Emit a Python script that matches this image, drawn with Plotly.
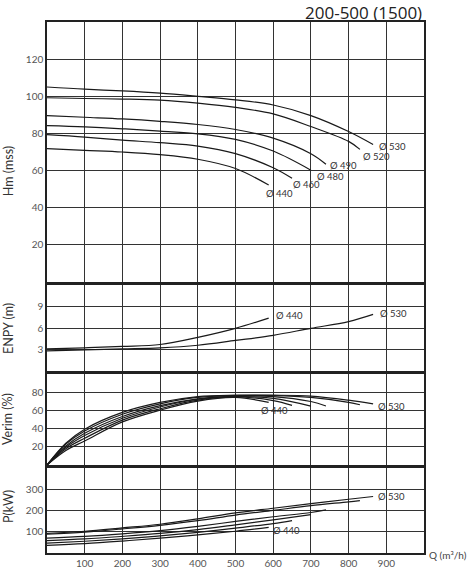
import plotly.graph_objects as go
from plotly.subplots import make_subplots

#%% Datos
diametros = [530, 520, 490, 480, 460, 440]
q_fin = [865, 830, 740, 707, 650, 588]          # caudal final de cada curva
q_malla = [0, 100, 200, 300, 400, 500, 600, 700, 800]
q_malla_ef = [0, 50, 100, 200, 300, 400, 500, 600, 700, 800]

# Hm (mss)
hm_530 = [105, 103.8, 102.9, 101.7, 100, 98.1, 95.3, 89.6, 81, 74]
hm_520 = [99.2, 98.8, 98.5, 97.9, 96.3, 94, 90.5, 83.7, 75.7, 71.4]
hm_490 = [89.6, 88.7, 87.8, 86.5, 84.8, 82.1, 77.5, 69.1, 63.4]
hm_480 = [84.2, 83.5, 82.5, 81.2, 79.8, 76.8, 70.5, 60.2]
hm_460 = [79.3, 78, 76.4, 75, 73.2, 69.1, 61.5, 55.8]
hm_440 = [71.8, 70.9, 70, 68.6, 66.1, 61.1, 52.2]

# ENPY (m), solo dos curvas
enpy_530 = [2.8, 2.96, 3.1, 3.24, 3.6, 4.27, 4.98, 5.96, 6.9, 7.9]
enpy_440 = [3.1, 3.24, 3.43, 3.7, 4.7, 5.96, 7.37]

# Verim (%)
ef_530 = [0, 24, 39.5, 58, 69, 75.5, 77, 77, 76, 71.5, 67.5]
ef_520 = [0, 23, 37.5, 56, 67.5, 74.5, 76.5, 76.5, 74.5, 69, 66.4]
ef_490 = [0, 21, 35, 53.5, 65.5, 73, 76, 75.5, 70, 65]
ef_480 = [0, 19.5, 32.5, 51.5, 64, 72.5, 75.5, 73.5, 65]
ef_460 = [0, 18, 29.5, 49.5, 62, 71.5, 75, 71, 65.7]
ef_440 = [0, 16, 26.5, 47.5, 60.5, 70.5, 74.5, 69]

# P (kW)
p_530 = [92, 102, 118, 135, 160, 188, 210, 232, 252, 265]
p_520 = [88, 98, 113, 130, 152, 178, 200, 222, 240, 246]
p_490 = [70, 78, 90, 105, 125, 148, 170, 190, 202]
p_480 = [58, 66, 78, 92, 110, 132, 155, 180]
p_460 = [46, 55, 66, 80, 97, 117, 138, 152]
p_440 = [36, 44, 56, 70, 85, 102, 120]

hm = [hm_530, hm_520, hm_490, hm_480, hm_460, hm_440]
ef = [ef_530, ef_520, ef_490, ef_480, ef_460, ef_440]
pw = [p_530, p_520, p_490, p_480, p_460, p_440]


def eje_q(malla, qmax):
    return [q for q in malla if q < qmax] + [qmax]


#%% Grafico
color_linea = '#1a1a1a'
fig = make_subplots(rows=4, cols=1, shared_xaxes=True)

etiquetas = []  # (fila, x, y, texto, xshift, yshift)

# Panel Hm
desp_hm = [(4, -2), (1, -7), (2, -1), (1, -6), (-1, -6), (-5, -8)]
for d, qmax, y, (dx, dy) in zip(diametros, q_fin, hm, desp_hm):
    x = eje_q(q_malla, qmax)
    fig.add_trace(go.Scatter(x=x, y=y, mode='lines', line_shape='spline',
                             line=dict(color=color_linea, width=1.2)), row=1, col=1)
    etiquetas.append((1, x[-1], y[-1], f'Ø {d}', dx, dy))

# Panel ENPY
for d, qmax, y, (dx, dy) in [(530, 865, enpy_530, (5, 1)), (440, 588, enpy_440, (5, 3))]:
    x = eje_q(q_malla, qmax)
    fig.add_trace(go.Scatter(x=x, y=y, mode='lines', line_shape='spline',
                             line=dict(color=color_linea, width=1.2)), row=2, col=1)
    etiquetas.append((2, x[-1], y[-1], f'Ø {d}', dx, dy))

# Panel Verim
for d, qmax, y in zip(diametros, q_fin, ef):
    x = eje_q(q_malla_ef, qmax)
    fig.add_trace(go.Scatter(x=x, y=y, mode='lines', line_shape='spline',
                             line=dict(color=color_linea, width=1.2)), row=3, col=1)
etiquetas.append((3, q_fin[0], ef_530[-1], 'Ø 530', 3, -3))
etiquetas.append((3, q_fin[-1], ef_440[-1], 'Ø 440', -10, -8))

# Panel P
for d, qmax, y in zip(diametros, q_fin, pw):
    x = eje_q(q_malla, qmax)
    fig.add_trace(go.Scatter(x=x, y=y, mode='lines', line_shape='spline',
                             line=dict(color=color_linea, width=1.2)), row=4, col=1)
etiquetas.append((4, q_fin[0], p_530[-1], 'Ø 530', 3, 0))
etiquetas.append((4, q_fin[-1], p_440[-1], 'Ø 440', 2, -3))

for fila, x, y, txt, dx, dy in etiquetas:
    fig.add_annotation(x=x, y=y, xref=f'x{fila}' if fila > 1 else 'x',
                       yref=f'y{fila}' if fila > 1 else 'y',
                       text=txt, showarrow=False, xanchor='left', yanchor='middle',
                       xshift=dx, yshift=dy,
                       font=dict(family='Lato', size=9.5, color='#333'))

# Ejes
dominios = [[0.5104, 1.0], [0.3427, 0.5047], [0.1657, 0.3365], [0.0, 0.1606]]
rangos = [[0, 140], [0, 12], [0, 100], [0, 400]]
ticks = [[20, 40, 60, 80, 100, 120], [3, 6, 9], [20, 40, 60, 80], [100, 200, 300]]

for i in range(4):
    fig.update_yaxes(domain=dominios[i], range=rangos[i], tickvals=ticks[i],
                     row=i + 1, col=1)

fig.update_yaxes(showgrid=True, gridcolor='#333', gridwidth=1, zeroline=False,
                 showline=True, mirror=True, linecolor='#222', linewidth=1.5,
                 ticks='', tickfont=dict(family='Lato', size=10, color='#555'))
fig.update_xaxes(range=[0, 1000], tickvals=[100, 200, 300, 400, 500, 600, 700, 800, 900],
                 showgrid=True, gridcolor='#333', gridwidth=1, zeroline=False,
                 showline=True, mirror=True, linecolor='#222', linewidth=1.5,
                 ticks='', tickfont=dict(family='Lato', size=10, color='#555'))

# Titulos de ejes como anotaciones
titulos_y = [('Hm (mss)', 0.719), ('ENPY (m)', 0.4218), ('Verim (%)', 0.2524), ('P(kW)', 0.0866)]
for txt, yp in titulos_y:
    fig.add_annotation(x=-0.1034, y=yp, xref='paper', yref='paper', text=txt,
                       textangle=-90, showarrow=False, xanchor='center', yanchor='middle',
                       font=dict(family='Lato', size=12.5, color='#333'))

fig.add_annotation(x=1.008, y=-0.004, xref='paper', yref='paper', text='Q (m³/h)',
                   showarrow=False, xanchor='left', yanchor='middle',
                   font=dict(family='Lato', size=10, color='#444'))

fig.add_annotation(x=1.0, y=1.0188, xref='paper', yref='paper', text='200-500 (1500)',
                   showarrow=False, xanchor='right', yanchor='middle',
                   font=dict(family='Open Sans', size=17, color='#222'))

fig.update_layout(
    width=475, height=580,
    margin=dict(l=47, r=51, t=22, b=27),
    plot_bgcolor='white', paper_bgcolor='white',
    showlegend=False
)

# Quitar el margen del body para que la figura empiece en (0, 0)
fig.write_html("out.html", config={'displayModeBar': False},
               post_script="document.body.style.margin='0';")
